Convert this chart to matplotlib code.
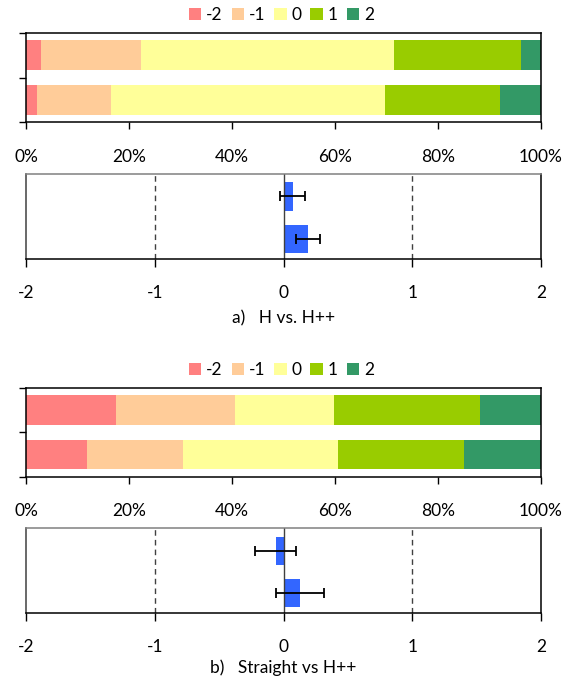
import matplotlib
matplotlib.use("Agg")
import matplotlib.pyplot as plt
import numpy as np
from matplotlib.patches import Patch

plt.rcParams['font.family'] = ['Lato', 'DejaVu Sans']

# ---------------- data ----------------
rating_levels = ["-2", "-1", "0", "1", "2"]
rating_colors = ["#FF8080", "#FFCC99", "#FFFF99", "#99CC00", "#339966"]
rows = ["row 1", "row 2"]  # top to bottom

# a) H vs. H++ : percentage of responses per rating level
a_shares = {
    "-2": [3.0, 2.1],
    "-1": [19.4, 14.5],
    "0": [49.0, 53.2],
    "1": [24.8, 22.2],
    "2": [3.8, 8.0],
}
a_mean = [0.07, 0.19]
a_err = [0.10, 0.094]

# b) Straight vs H++
b_shares = {
    "-2": [17.5, 11.8],
    "-1": [23.0, 18.6],
    "0": [19.3, 30.1],
    "1": [28.3, 24.5],
    "2": [11.9, 15.0],
}
b_mean = [-0.06, 0.125]
b_err = [0.16, 0.186]

pct_ticks = [0, 20, 40, 60, 80, 100]
pct_labels = ["0%", "20%", "40%", "60%", "80%", "100%"]
score_ticks = [-2, -1, 0, 1, 2]
score_labels = ["-2", "-1", "0", "1", "2"]
captions = ["a)   H vs. H++", "b)   Straight vs H++"]

# ---------------- layout ----------------
W, H = 573, 679
fig = plt.figure(figsize=(W / 100, H / 100), dpi=100)
FS = 12.5

def axes_px(left, top, right, bottom):
    return fig.add_axes([left / W, 1 - bottom / H, (right - left) / W, (bottom - top) / H])

def stacked(ax, shares):
    y = np.arange(len(rows))
    left = np.zeros(len(rows))
    for lvl, col in zip(rating_levels, rating_colors):
        vals = np.array(shares[lvl])
        ax.barh(y, vals, left=left, height=0.67, color=col, edgecolor='none')
        left += vals
    ax.set_xlim(0, 100)
    ax.set_ylim(len(rows) - 0.5, -0.5)
    ax.set_yticks([-0.5, 0.5, 1.5])
    ax.set_yticklabels([])
    ax.set_xticks(pct_ticks)
    ax.set_xticklabels(pct_labels, fontsize=FS)
    ax.tick_params(axis='x', direction='out', length=5, width=1, pad=14)
    ax.tick_params(axis='y', direction='out', length=5, width=1)
    for s in ax.spines.values():
        s.set_color('black')
        s.set_linewidth(1.1)

def meanbars(ax, mean, err):
    y = np.arange(len(rows)) + 0.03
    ax.barh(y, mean, height=0.67, color="#3366FF", edgecolor='none', zorder=2)
    ax.errorbar(mean, y, xerr=err, fmt='none', ecolor='black', elinewidth=1.3,
                capsize=3.5, capthick=1.3, zorder=3)
    ax.set_xlim(-2, 2)
    ax.set_ylim(len(rows) - 0.5, -0.5)
    ax.set_yticks([])
    ax.set_xticks(score_ticks)
    ax.set_xticklabels(score_labels, fontsize=FS)
    ax.tick_params(axis='x', direction='out', length=6, width=1, pad=13)
    for xv in [-1, 1]:
        ax.axvline(xv, color='#404040', lw=1.0, ls=(0, (4, 3)), zorder=1)
    ax.axvline(0, color='#404040', lw=1.0, zorder=2.5)
    ax.spines['top'].set_color('#808080')
    ax.spines['left'].set_color('#404040')
    ax.spines['right'].set_color('black')
    ax.spines['bottom'].set_color('black')
    for s in ax.spines.values():
        s.set_linewidth(1.1)

def legend_at(ypx):
    handles = [Patch(facecolor=c, edgecolor='none', label=l)
               for l, c in zip(rating_levels, rating_colors)]
    fig.legend(handles=handles, loc='center', bbox_to_anchor=(281.5 / W, 1 - ypx / H),
               ncol=5, frameon=False, fontsize=FS, handlelength=0.73, handleheight=0.73,
               handletextpad=0.28, columnspacing=0.5, borderaxespad=0, borderpad=0)

ax1 = axes_px(26, 32.7, 541, 122.3)
stacked(ax1, a_shares)
legend_at(15)

ax2 = axes_px(26, 174, 541, 258.7)
meanbars(ax2, a_mean, a_err)
fig.text(283.5 / W, 1 - 318 / H, captions[0], ha='center', va='center', fontsize=FS)

ax3 = axes_px(26, 387.7, 541, 476.7)
stacked(ax3, b_shares)
legend_at(370)

ax4 = axes_px(26, 528.3, 541, 612.7)
meanbars(ax4, b_mean, b_err)
fig.text(283.5 / W, 1 - 668 / H, captions[1], ha='center', va='center', fontsize=FS)

fig.savefig("out.png", dpi=100)
